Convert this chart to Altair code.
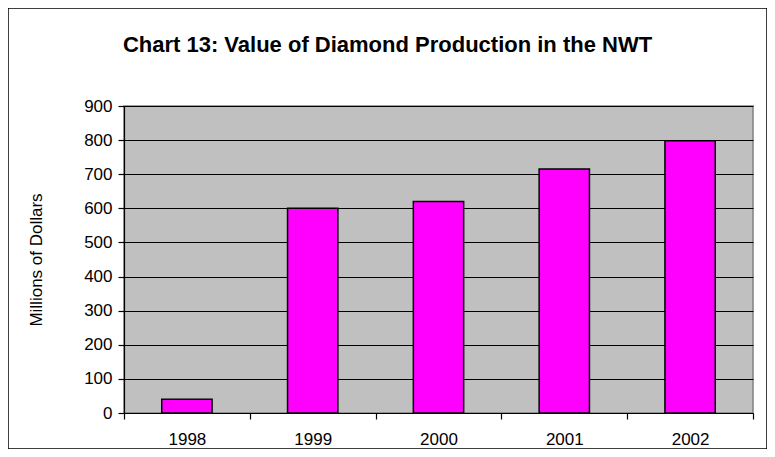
import altair as alt
import pandas as pd

years = ["1998", "1999", "2000", "2001", "2002"]
values = [40, 600, 620, 715, 798]
y_ticks = [0, 100, 200, 300, 400, 500, 600, 700, 800, 900]

df = pd.DataFrame({"year": years, "value": values})
frame_df = pd.DataFrame({"k": [0]})

W, H = 629, 307
FONT = "Liberation Sans"

frame = alt.Chart(frame_df).mark_rect(
    fill="transparent", stroke="black", strokeWidth=1.5
).encode(
    x=alt.value(-116), x2=alt.value(643), y=alt.value(-98), y2=alt.value(343)
)

bars = alt.Chart(df).mark_bar(
    width={"band": 0.4}, fill="#FF00FF", stroke="black", strokeWidth=1.5
).encode(
    x=alt.X(
        "year:N",
        sort=years,
        scale=alt.Scale(paddingInner=0, paddingOuter=0),
        axis=alt.Axis(
            title=None, labelAngle=0, tickBand="extent", grid=False,
            labelPadding=12, tickSize=6,
        ),
    ),
    y=alt.Y(
        "value:Q",
        scale=alt.Scale(domain=[0, 900], nice=False, zero=True),
        axis=alt.Axis(
            title="Millions of Dollars", values=y_ticks, grid=True,
            tickSize=6, labelPadding=6, titlePadding=38,
        ),
    ),
)

chart = alt.layer(frame, bars).properties(
    width=W,
    height=H,
    title=alt.TitleParams(
        "Chart 13: Value of Diamond Production in the NWT",
        font=FONT, fontSize=22, fontWeight="bold", color="black",
        anchor="middle", dx=-51, offset=-50,
    ),
    autosize=alt.AutoSizeParams(type="none"),
    padding={"left": 116, "top": 98, "right": 14, "bottom": 36},
    background="white",
).configure_view(
    fill="#C0C0C0", stroke="#808080", strokeWidth=1.5
).configure_axis(
    domainColor="black", domainWidth=1.2, tickColor="black", tickWidth=1.2,
    gridColor="black", gridWidth=1, gridOpacity=1,
    labelFont=FONT, labelFontSize=17, labelColor="black",
    titleFont=FONT, titleFontSize=17, titleFontWeight="normal", titleColor="black",
)

chart.save("out.html", embed_options={"renderer": "svg", "actions": False})
